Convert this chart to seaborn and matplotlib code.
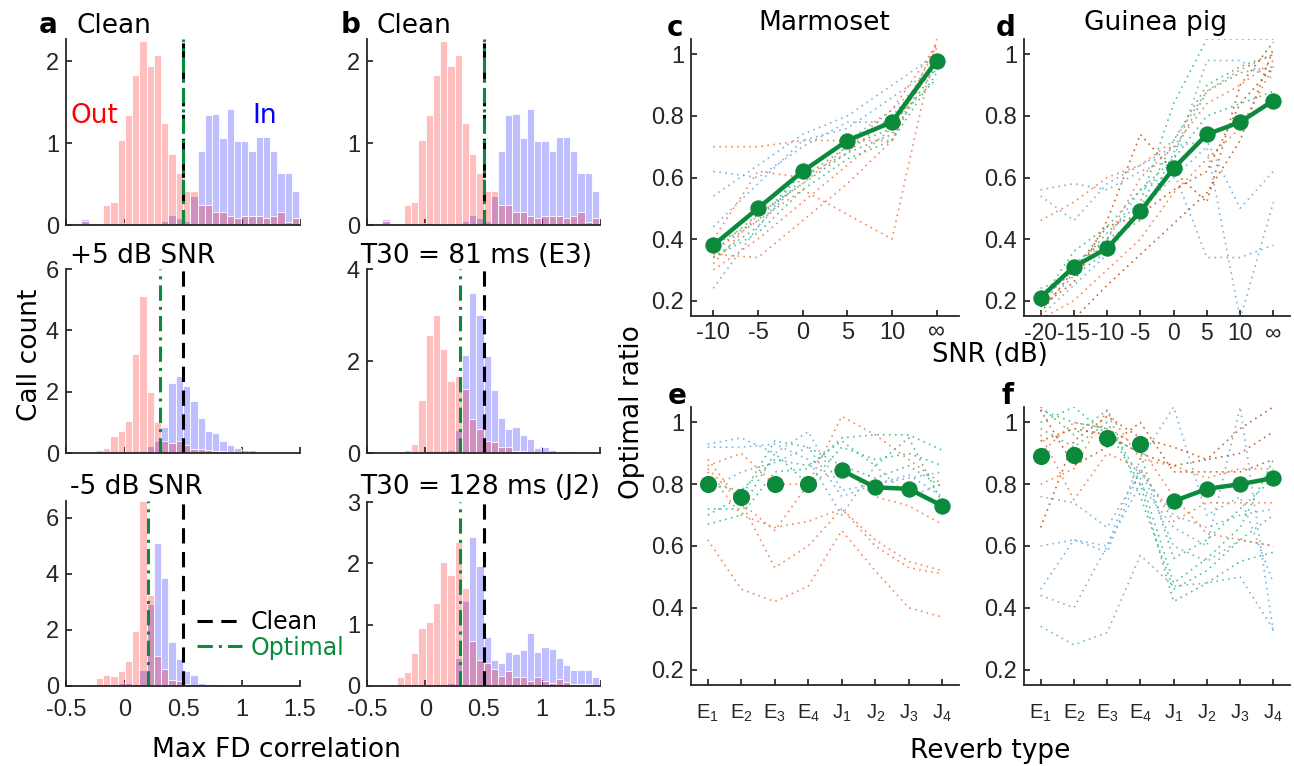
import numpy as np
import pandas as pd
import matplotlib
matplotlib.use("Agg")
import matplotlib.pyplot as plt
import seaborn as sns

# --- histogram data (bar heights per bin, bins of width 0.062 anchored at 0.5) ---
bin_edges = [round(0.5 + 0.062 * k, 4) for k in range(-17, 18)]
bin_centers = [(a + b) / 2 for a, b in zip(bin_edges[:-1], bin_edges[1:])]

clean_out = [0, 0, 0.03, 0.05, 0.0, 0.03, 0.25, 0.28, 1.04, 1.34, 1.83, 2.25, 1.94, 2.07, 1.24, 0.87, 0.64,
             0.41, 0.41, 0.24, 0.25, 0.16, 0.16, 0.11, 0.08, 0.11, 0.11, 0.11, 0.08, 0.11, 0.16, 0.04, 0.08, 0.0]
clean_in = [0, 0.03, 0.03, 0.07, 0.03, 0.02, 0.03, 0.02, 0.02, 0.02, 0.01, 0.01, 0.02, 0.03, 0.05, 0.12, 0.08,
            0.05, 0.36, 0.90, 1.34, 1.36, 1.06, 1.42, 1.03, 1.03, 0.90, 1.07, 1.07, 0.90, 0.64, 0.64, 0.41, 0.26]

snr5_out = [0, 0, 0, 0, 0.02, 0.10, 0.16, 0.54, 0.71, 1.05, 3.23, 5.13, 1.99, 1.00, 0.38, 0.33, 0.40,
            0.27, 0.14, 0.14, 0.11, 0.08, 0.08, 0.04, 0.03, 0.02, 0.01, 0.01, 0, 0, 0, 0, 0, 0]
snr5_in = [0, 0, 0, 0, 0.01, 0.02, 0.02, 0.03, 0.03, 0.04, 0.05, 0.08, 0.22, 0.38, 0.85, 2.28, 2.50,
           2.17, 1.68, 1.14, 0.71, 0.65, 0.38, 0.27, 0.16, 0.11, 0.11, 0.02, 0.01, 0, 0, 0, 0, 0]

snrm5_out = [0, 0, 0, 0.02, 0.08, 0.29, 0.38, 0.35, 0.55, 0.88, 1.96, 6.6, 3.26, 1.08, 0.60, 0.20, 0.17,
             0.08, 0.05, 0.03, 0.01, 0.01, 0.01, 0, 0, 0, 0, 0, 0, 0, 0, 0, 0, 0]
snrm5_in = [0, 0, 0, 0.01, 0.01, 0.02, 0.03, 0.05, 0.10, 0.12, 0.08, 0.58, 2.92, 5.10, 3.86, 1.57, 0.95,
            0.52, 0.40, 0.12, 0.08, 0.06, 0.05, 0.04, 0.03, 0.02, 0.01, 0, 0, 0, 0, 0, 0, 0]

e3_out = [0, 0, 0, 0, 0.01, 0.05, 0.06, 0.20, 1.15, 2.56, 2.99, 2.27, 1.57, 1.68, 1.39, 0.74, 0.52,
          0.27, 0.25, 0.12, 0.12, 0.05, 0.04, 0.03, 0.02, 0.01, 0.01, 0.01, 0, 0, 0, 0, 0, 0]
e3_in = [0, 0, 0.01, 0.02, 0.02, 0.02, 0.03, 0.03, 0.03, 0.04, 0.05, 0.05, 0.06, 0.49, 2.14, 3.48, 3.00,
         2.10, 1.38, 0.76, 0.52, 0.56, 0.40, 0.31, 0.11, 0.12, 0.07, 0.01, 0.04, 0.04, 0.02, 0, 0, 0]

j2_out = [0, 0, 0, 0, 0.01, 0.14, 0.23, 0.53, 0.94, 1.04, 1.35, 2.02, 1.81, 2.35, 1.60, 0.74, 0.42,
          0.38, 0.27, 0.16, 0.25, 0.14, 0.14, 0.08, 0.14, 0.08, 0.05, 0.11, 0.06, 0.04, 0.04, 0.04, 0.02, 0]
j2_in = [0, 0.02, 0.01, 0.01, 0.02, 0.01, 0.02, 0.02, 0.02, 0.03, 0.03, 0.04, 0.05, 0.46, 1.39, 2.43, 1.95,
         0.80, 0.42, 0.37, 0.55, 0.52, 0.58, 0.86, 0.55, 0.64, 0.60, 0.46, 0.35, 0.26, 0.26, 0.26, 0.14, 0.10]

clean_thr = 0.5
optimal_thr = [0.5, 0.3, 0.2, 0.5, 0.3, 0.3]
hist_titles = ["Clean", "+5 dB SNR", "-5 dB SNR", "Clean", "T30 = 81 ms (E3)", "T30 = 128 ms (J2)"]

# --- optimal ratio data ---
snr_labels_c = ["-10", "-5", "0", "5", "10", "∞"]
snr_labels_d = ["-20", "-15", "-10", "-5", "0", "5", "10", "∞"]
reverb_labels = [r"E$_{\mathrm{1}}$", r"E$_{\mathrm{2}}$", r"E$_{\mathrm{3}}$", r"E$_{\mathrm{4}}$",
                 r"J$_{\mathrm{1}}$", r"J$_{\mathrm{2}}$", r"J$_{\mathrm{3}}$", r"J$_{\mathrm{4}}$"]

c_main = [0.38, 0.50, 0.62, 0.72, 0.78, 0.98]
d_main = [0.21, 0.31, 0.37, 0.49, 0.63, 0.74, 0.78, 0.85]
e_main = [0.80, 0.76, 0.80, 0.80, 0.845, 0.79, 0.785, 0.73]
f_main = [0.89, 0.895, 0.95, 0.93, 0.745, 0.785, 0.80, 0.82]

c_orange = [[0.70, 0.70, 0.72, 0.72, 0.72, 1.04],
            [0.36, 0.46, 0.56, 0.48, 0.40, 1.05],
            [0.35, 0.34, 0.46, 0.58, 0.72, 1.00],
            [0.30, 0.40, 0.52, 0.64, 0.76, 1.02],
            [0.40, 0.62, 0.60, 0.68, 0.80, 0.96],
            [0.32, 0.48, 0.58, 0.70, 0.82, 1.03]]
c_blue = [[0.24, 0.44, 0.62, 0.72, 0.82, 0.95],
          [0.62, 0.60, 0.70, 0.78, 0.78, 0.98],
          [0.54, 0.64, 0.74, 0.80, 0.90, 1.00],
          [0.44, 0.58, 0.72, 0.76, 0.86, 0.96]]
c_teal = [[0.34, 0.42, 0.56, 0.66, 0.72, 0.94],
          [0.36, 0.48, 0.58, 0.68, 0.74, 0.96],
          [0.34, 0.44, 0.60, 0.70, 0.76, 0.98],
          [0.38, 0.46, 0.62, 0.72, 0.78, 0.92]]

d_blue = [[0.56, 0.58, 0.56, 0.62, 0.66, 0.98, 0.98, 0.92],
          [0.54, 0.46, 0.58, 0.64, 0.70, 0.72, 0.50, 0.62],
          [0.20, 0.30, 0.40, 0.56, 0.62, 0.34, 0.34, 0.38],
          [0.15, 0.25, 0.35, 0.50, 0.60, 0.70, 0.14, 0.52]]
d_orange = [[0.46, 0.52, 0.60, 0.64, 0.72, 0.88, 0.95, 1.00],
            [0.18, 0.28, 0.40, 0.60, 0.70, 0.84, 0.90, 0.98],
            [0.14, 0.20, 0.30, 0.40, 0.55, 0.66, 0.76, 0.96]]
d_brown = [[0.14, 0.14, 0.25, 0.35, 0.45, 0.55, 0.72, 1.02],
           [0.18, 0.26, 0.46, 0.74, 0.62, 0.52, 0.90, 1.04],
           [0.16, 0.30, 0.44, 0.48, 0.56, 0.62, 0.84, 0.96]]
d_teal = [[0.18, 0.32, 0.40, 0.46, 0.68, 0.88, 0.94, 0.96],
          [0.22, 0.30, 0.42, 0.52, 0.84, 1.05, 1.05, 1.05],
          [0.20, 0.36, 0.44, 0.56, 0.66, 0.80, 0.84, 0.88],
          [0.24, 0.28, 0.36, 0.50, 0.72, 0.90, 0.96, 1.00]]

e_orange = [[0.62, 0.46, 0.42, 0.47, 0.65, 0.52, 0.40, 0.37],
            [0.88, 0.74, 0.53, 0.60, 0.72, 0.60, 0.53, 0.51],
            [0.84, 0.70, 0.66, 0.68, 0.72, 0.62, 0.55, 0.52],
            [0.86, 0.90, 0.80, 0.80, 1.02, 0.96, 0.88, 0.80],
            [0.85, 0.74, 0.65, 0.80, 0.86, 0.76, 0.73, 0.67]]
e_blue = [[0.93, 0.95, 0.90, 0.97, 0.78, 0.80, 0.82, 0.84],
          [0.92, 0.92, 0.93, 0.88, 0.70, 0.86, 0.76, 0.80],
          [0.78, 0.84, 0.87, 0.92, 0.76, 0.80, 0.83, 0.76]]
e_teal = [[0.67, 0.70, 0.84, 0.85, 0.95, 0.96, 0.96, 0.91],
          [0.72, 0.72, 0.90, 0.80, 0.92, 0.88, 0.90, 0.86],
          [0.70, 0.76, 0.94, 0.92, 0.86, 0.82, 0.86, 0.79],
          [0.80, 0.78, 0.88, 0.86, 0.94, 0.86, 0.95, 0.74]]

f_blue = [[0.34, 0.28, 0.32, 0.57, 0.47, 0.48, 0.50, 0.33],
          [0.46, 0.62, 0.60, 0.88, 1.05, 0.70, 0.76, 0.48],
          [0.60, 0.62, 0.58, 0.85, 0.60, 0.55, 0.62, 0.60],
          [0.76, 0.74, 0.66, 0.84, 0.70, 0.66, 0.70, 0.72],
          [0.44, 0.40, 0.60, 0.80, 0.66, 0.60, 1.05, 0.32]]
f_teal = [[1.04, 1.00, 0.98, 0.80, 0.42, 0.48, 0.55, 0.58],
          [1.05, 0.96, 1.04, 0.76, 0.46, 0.52, 0.62, 0.70],
          [1.00, 1.05, 0.96, 0.90, 0.56, 0.62, 0.72, 0.82],
          [0.98, 0.92, 1.00, 0.82, 0.48, 0.56, 0.66, 0.88]]
f_orange = [[0.80, 0.85, 1.04, 0.88, 0.86, 0.82, 0.85, 0.85],
            [0.96, 0.75, 0.90, 0.85, 0.68, 0.74, 0.74, 0.74],
            [0.90, 1.00, 0.98, 0.92, 0.76, 0.64, 0.62, 0.60]]
f_brown = [[0.66, 0.94, 1.02, 0.95, 0.92, 0.88, 0.90, 0.97],
           [1.04, 0.86, 0.92, 1.00, 0.84, 0.84, 0.84, 0.88],
           [0.94, 0.98, 0.96, 0.90, 0.86, 0.88, 0.98, 1.05]]

# --- style ---
GREEN = "#0b8a3c"
BLUE_U, ORANGE_U, TEAL_U, BROWN_U = "#72aedb", "#f57d4c", "#3dbb8a", "#c2581a"
TICK_FONT = "Liberation Sans"
W, H = 1294, 766

sns.set_theme(style="ticks")
plt.rcParams["font.family"] = ["DejaVu Sans"]
plt.rcParams.update({
    "axes.edgecolor": "#262626", "axes.linewidth": 1.3,
    "xtick.color": "#262626", "ytick.color": "#262626",
    "xtick.direction": "in", "ytick.direction": "in",
    "xtick.major.size": 4, "ytick.major.size": 4,
    "xtick.labelsize": 17, "ytick.labelsize": 17,
    "text.color": "black",
    "mathtext.fontset": "custom",
    "mathtext.rm": "Liberation Sans",
    "mathtext.it": "Liberation Sans:italic",
})

fig = plt.figure(figsize=(W / 100, H / 100), dpi=100)


def add_ax(x0, y0, x1, y1):
    return fig.add_axes([x0 / W, 1 - y1 / H, (x1 - x0) / W, (y1 - y0) / H])


def ftext(x, y, s, **kw):
    return fig.text(x / W, 1 - y / H, s, **kw)


def draw_hist(ax, out_vals, in_vals, top, yticks, opt, show_x):
    df = pd.DataFrame({"r": bin_centers, "out": out_vals, "in": in_vals})
    sns.histplot(data=df, x="r", weights="in", bins=bin_edges, color="#0000ff", alpha=0.25,
                 edgecolor="white", linewidth=0.6, ax=ax)
    sns.histplot(data=df, x="r", weights="out", bins=bin_edges, color="#ff0000", alpha=0.25,
                 edgecolor="white", linewidth=0.6, ax=ax)
    lc = ax.axvline(clean_thr, color="black", ls=(0, (5, 2.8)), lw=2.2)
    lo = ax.axvline(opt, color=GREEN, ls=(0, (5, 2, 1, 2)), lw=2.2)
    ax.set_xlim(-0.5, 1.5)
    ax.set_ylim(0, top)
    ax.set_yticks(yticks)
    ax.set_xticks([-0.5, 0, 0.5, 1, 1.5])
    ax.set_xticklabels(["-0.5", "0", "0.5", "1", "1.5"] if show_x else [])
    ax.set_ylabel("")
    ax.set_xlabel("")
    ax.tick_params(axis="x", pad=9, labelfontfamily=TICK_FONT)
    ax.tick_params(axis="y", pad=5, labelfontfamily=TICK_FONT)
    sns.despine(ax=ax)
    return lc, lo


hist_axes = [add_ax(66, 39, 300, 225), add_ax(66, 269, 300, 453), add_ax(66, 501, 300, 686),
             add_ax(367, 39, 600, 225), add_ax(367, 269, 600, 453), add_ax(367, 502, 600, 686)]
hist_data = [(clean_out, clean_in, 2.27, [0, 1, 2]),
             (snr5_out, snr5_in, 6, [0, 2, 4, 6]),
             (snrm5_out, snrm5_in, 6.6, [0, 2, 4, 6]),
             (clean_out, clean_in, 2.27, [0, 1, 2]),
             (e3_out, e3_in, 4, [0, 2, 4]),
             (j2_out, j2_in, 3, [0, 1, 2, 3])]
handles = None
for i, (ax, (o, n, top, yt)) in enumerate(zip(hist_axes, hist_data)):
    h = draw_hist(ax, o, n, top, yt, optimal_thr[i], i in (2, 5))
    if i == 2:
        handles = h

hist_axes[2].legend(handles=list(handles), labels=["Clean", "Optimal"], frameon=False, fontsize=17,
                    labelcolor=["black", GREEN], handlelength=1.9, handletextpad=0.35,
                    labelspacing=0.05, loc="upper left", bbox_to_anchor=(0.52, 0.46), borderaxespad=0)

# histogram titles
ftext(76, 26, hist_titles[0], fontsize=19, va="center")
ftext(70, 256, hist_titles[1], fontsize=19, va="center")
ftext(70, 487, hist_titles[2], fontsize=19, va="center")
ftext(377, 26, hist_titles[3], fontsize=19, va="center")
ftext(476, 256, hist_titles[4], fontsize=19, va="center", ha="center")
ftext(480, 487, hist_titles[5], fontsize=19, va="center", ha="center")
ftext(94, 116, "Out", fontsize=19, color="#ff0000", va="center", ha="center")
ftext(265, 116, "In", fontsize=19, color="#0000ff", va="center", ha="center")
ftext(30, 355, "Call count", fontsize=19, rotation=90, va="center", ha="center")
ftext(276, 750, "Max FD correlation", fontsize=19, va="center", ha="center")


# --- optimal ratio panels ---
def unit_frame(groups):
    rows = []
    uid = 0
    for color, lines in groups:
        for line in lines:
            for xi, v in enumerate(line):
                rows.append({"x": xi, "y": v, "unit": uid, "color": color})
            uid += 1
    return pd.DataFrame(rows)


def draw_units(ax, groups):
    df = unit_frame(groups)
    sns.lineplot(data=df, x="x", y="y", hue="color", units="unit", estimator=None,
                 palette={c: c for c in df["color"].unique()}, linestyle=(0, (1, 2.6)),
                 lw=1.2, alpha=0.9, legend=False, ax=ax)


def style_ratio(ax, labels, pad, xsize):
    ax.set_xlim(-0.5, len(labels) - 0.5)
    ax.set_ylim(0.15, 1.05)
    ax.set_xticks(range(len(labels)))
    ax.set_xticklabels(labels)
    ax.set_yticks([0.2, 0.4, 0.6, 0.8, 1.0])
    ax.set_yticklabels(["0.2", "0.4", "0.6", "0.8", "1"])
    ax.tick_params(axis="x", pad=pad, labelsize=xsize, labelfontfamily=TICK_FONT)
    ax.tick_params(axis="y", pad=5, labelfontfamily=TICK_FONT)
    ax.set_xlabel("")
    ax.set_ylabel("")
    sns.despine(ax=ax)


ax_c = add_ax(691, 39, 959, 316)
draw_units(ax_c, [(ORANGE_U, c_orange), (BLUE_U, c_blue), (TEAL_U, c_teal)])
sns.lineplot(x=list(range(len(c_main))), y=c_main, color=GREEN, lw=3.2, marker="o", markersize=11,
             markeredgecolor=GREEN, ax=ax_c)
style_ratio(ax_c, snr_labels_c, 4, 17)

ax_d = add_ax(1024, 39, 1290, 316)
draw_units(ax_d, [(BLUE_U, d_blue), (ORANGE_U, d_orange), (BROWN_U, d_brown), (TEAL_U, d_teal)])
sns.lineplot(x=list(range(len(d_main))), y=d_main, color=GREEN, lw=3.2, marker="o", markersize=11,
             markeredgecolor=GREEN, ax=ax_d)
style_ratio(ax_d, snr_labels_d, 4, 16.5)

ax_e = add_ax(691, 407, 959, 685)
draw_units(ax_e, [(ORANGE_U, e_orange), (BLUE_U, e_blue), (TEAL_U, e_teal)])
sns.scatterplot(x=list(range(4)), y=e_main[:4], color=GREEN, s=130, edgecolor=GREEN, ax=ax_e, zorder=5)
sns.lineplot(x=list(range(4, 8)), y=e_main[4:], color=GREEN, lw=3.2, marker="o", markersize=11,
             markeredgecolor=GREEN, ax=ax_e)
style_ratio(ax_e, reverb_labels, 13, 14.5)

ax_f = add_ax(1024, 407, 1290, 685)
draw_units(ax_f, [(BLUE_U, f_blue), (TEAL_U, f_teal), (ORANGE_U, f_orange), (BROWN_U, f_brown)])
sns.scatterplot(x=list(range(4)), y=f_main[:4], color=GREEN, s=130, edgecolor=GREEN, ax=ax_f, zorder=5)
sns.lineplot(x=list(range(4, 8)), y=f_main[4:], color=GREEN, lw=3.2, marker="o", markersize=11,
             markeredgecolor=GREEN, ax=ax_f)
style_ratio(ax_f, reverb_labels, 13, 14.5)

ftext(824, 23, "Marmoset", fontsize=19, va="center", ha="center")
ftext(1155, 23, "Guinea pig", fontsize=19, va="center", ha="center")
ftext(990, 355, "SNR (dB)", fontsize=18.5, va="center", ha="center")
ftext(990, 751, "Reverb type", fontsize=19, va="center", ha="center")
ftext(632, 412, "Optimal ratio", fontsize=19, rotation=90, va="center", ha="center")

# panel letters
for lx, ly, s in [(48, 25, "a"), (351, 25, "b"), (675, 28, "c"), (1006, 28, "d"),
                  (677, 396, "e"), (1008, 396, "f")]:
    ftext(lx, ly, s, fontsize=20, fontweight="bold", va="center", ha="center")

fig.savefig("out.png", dpi=100)
